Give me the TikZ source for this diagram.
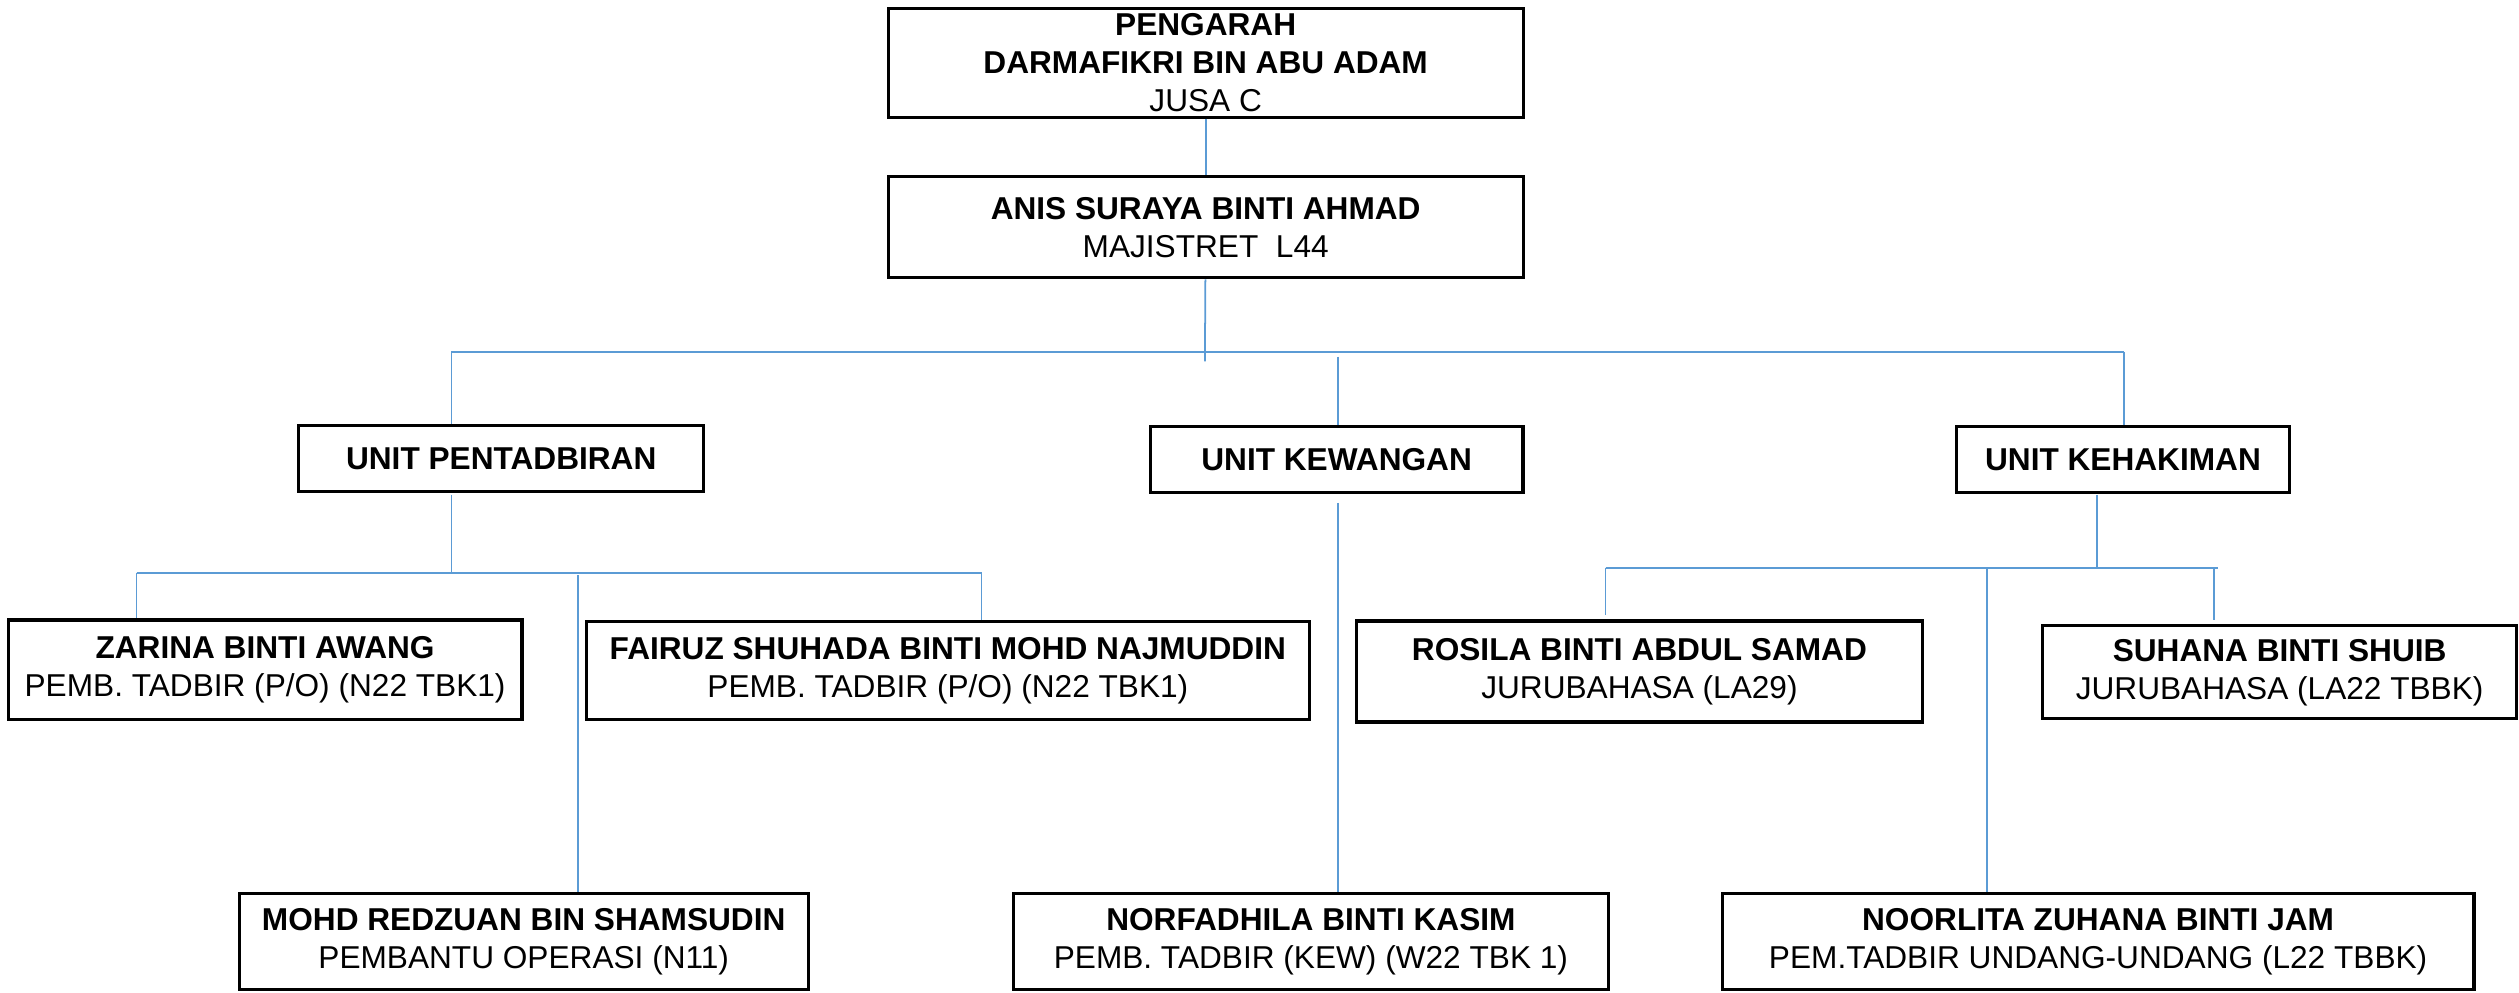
\documentclass[tikz,border=0pt]{standalone}
\usepackage{fontspec}
\setmainfont{Liberation Sans}
\definecolor{garisbiru}{RGB}{91,155,213}
\begin{document}
\begin{tikzpicture}[x=0.1607mm, y=-0.1607mm,
                    kotak/.style={draw, line width=0.9pt, align=center, inner sep=0pt,
                                  font=\fontsize{9}{10.8}\selectfont},
                    garis/.style={draw=garisbiru, line width=0.5pt}]
                            \useasboundingbox (0,0) rectangle (1568,617.5);
                            % pengurusan
                            \node[kotak, minimum width=63.5mm, minimum height=10.9mm] (pengarah) at (750.5,39) {\textbf{PENGARAH}\\\textbf{DARMAFIKRI BIN ABU ADAM}\\JUSA C};
                            \node[kotak, minimum width=63.5mm, minimum height=10.1mm] (majistret) at (750.5,141.5) {\textbf{ANIS SURAYA BINTI AHMAD}\\MAJISTRET~~L44};
                            % unit
                            \node[kotak, minimum width=40.5mm, minimum height=6.6mm] (pentadbiran) at (312,285.5) {\textbf{UNIT PENTADBIRAN}};
                            \node[kotak, minimum width=37.3mm, minimum height=6.6mm] (kewangan) at (832,286) {\textbf{UNIT KEWANGAN}};
                            \node[kotak, minimum width=33.3mm, minimum height=6.6mm] (kehakiman) at (1321.5,286) {\textbf{UNIT KEHAKIMAN}};
                            % kakitangan
                            \node[kotak, minimum width=51.4mm, minimum height=10mm] (zarina) at (165,417) {\textbf{ZARINA BINTI AWANG}\\PEMB. TADBIR (P/O) (N22 TBK1)};
                            \node[kotak, minimum width=72.3mm, minimum height=9.8mm] (fairuz) at (590,417.5) {\textbf{FAIRUZ SHUHADA BINTI MOHD NAJMUDDIN}\\PEMB. TADBIR (P/O) (N22 TBK1)};
                            \node[kotak, minimum width=56.6mm, minimum height=10.1mm] (rosila) at (1020.5,418) {\textbf{ROSILA BINTI ABDUL SAMAD}\\JURUBAHASA (LA29)};
                            \node[kotak, minimum width=47.4mm, minimum height=9.3mm] (suhana) at (1419,418.5) {\textbf{SUHANA BINTI SHUIB}\\JURUBAHASA (LA22 TBBK)};
                            \node[kotak, minimum width=56.9mm, minimum height=9.6mm] (redzuan) at (326,586) {\textbf{MOHD REDZUAN BIN SHAMSUDIN}\\PEMBANTU OPERASI (N11)};
                            \node[kotak, minimum width=59.5mm, minimum height=9.6mm] (norfadhila) at (816,586) {\textbf{NORFADHILA BINTI KASIM}\\PEMB. TADBIR (KEW) (W22 TBK 1)};
                            \node[kotak, minimum width=75.2mm, minimum height=9.6mm] (noorlita) at (1306,586) {\textbf{NOORLITA ZUHANA BINTI JAM}\\PEM.TADBIR UNDANG-UNDANG (L22 TBBK)};
                            % garis penyambung
                            \coordinate (b1m) at (750,225);
                            \coordinate (b1l) at (281,219);
                            \coordinate (b1r) at (1322,219);
                            \coordinate (kw1) at (833,222);
                            \draw[garis] (pengarah) -- (majistret);
                            \draw[garis] (majistret) -- (b1m);
                            \draw[garis] (b1l) -- (b1r);
                            \draw[garis] (b1l) -- (b1l |- pentadbiran.north);
                            \draw[garis] (kw1) -- (kw1 |- kewangan.north);
                            \draw[garis] (b1r) -- (b1r |- kehakiman.north);
                            % pentadbiran
                            \coordinate (p1) at (281,308);
                            \coordinate (b2l) at (85,356.5);
                            \coordinate (b2r) at (611,356.5);
                            \coordinate (b2m) at (360,358);
                            \draw[garis] (p1) -- (p1 |- b2l);
                            \draw[garis] (b2l) -- (b2r);
                            \draw[garis] (b2l) -- (b2l |- zarina.north);
                            \draw[garis] (b2r) -- (b2r |- fairuz.north);
                            \draw[garis] (b2m) -- (b2m |- redzuan.north);
                            % kewangan
                            \coordinate (kw2) at (833,313);
                            \draw[garis] (kw2) -- (kw2 |- norfadhila.north);
                            % kehakiman
                            \coordinate (h1) at (1305.5,308);
                            \coordinate (b3l) at (999.4,353.4);
                            \coordinate (b3r) at (1380.4,353.4);
                            \coordinate (b3m) at (1236.6,354.2);
                            \coordinate (ro) at (999.4,383);
                            \coordinate (su) at (1378,386);
                            \draw[garis] (h1) -- (h1 |- b3l);
                            \draw[garis] (b3l) -- (b3r);
                            \draw[garis] (b3l) -- (ro);
                            \draw[garis] (su |- b3r) -- (su);
                            \draw[garis] (b3m) -- (b3m |- noorlita.north);
                        \end{tikzpicture}
\end{document}
